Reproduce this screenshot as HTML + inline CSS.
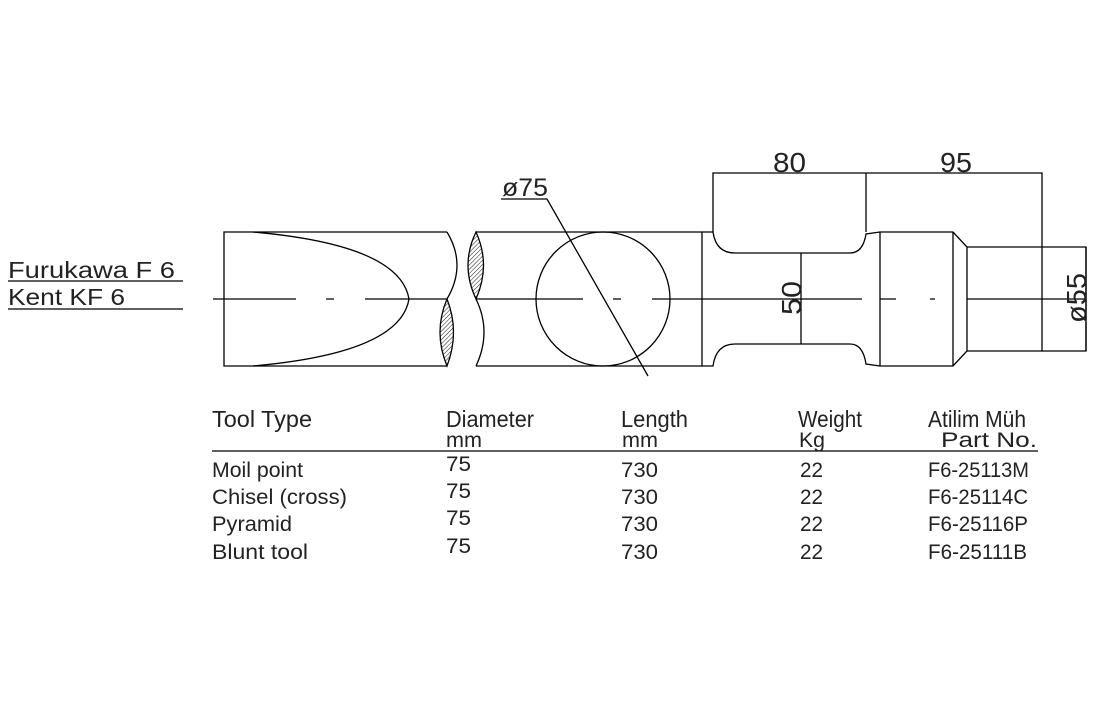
<!DOCTYPE html>
<html><head><meta charset="utf-8"><style>
html,body{margin:0;padding:0;background:#fff;}
svg{display:block;}
text{font-family:"Liberation Sans",sans-serif;fill:#222;font-weight:normal;}
</style></head><body>
<svg width="1103" height="714" viewBox="0 0 1103 714" xmlns="http://www.w3.org/2000/svg">
<defs>
<pattern id="h" width="3" height="3" patternUnits="userSpaceOnUse" patternTransform="rotate(45)">
<line x1="0" y1="0" x2="0" y2="3" stroke="#000" stroke-width="0.9"/>
</pattern>
</defs>
<g fill="none" stroke="#000" stroke-width="1.3">
<line x1="8" y1="281" x2="183" y2="281"/>
<line x1="8" y1="309" x2="183" y2="309"/>
<path d="M213 299H296 M326 299H334 M365 299H447 M476 299H583 M613 299H621 M652 299H862 M880 299H896 M930 299H935 M967 299H1085"/>
<path d="M447 232H224V366H447"/>
<path d="M447 232Q467 265 447 299"/>
<path d="M253 232Q400 245 409 299Q400 353 253 366"/>
<path d="M447 299Q433 332 447 366Q460 332 447 299Z" fill="url(#h)"/>
<path d="M476 232H702V366H476"/>
<path d="M476 232Q460 265 476 299Q491 265 476 232Z" fill="url(#h)"/>
<path d="M476 299Q492 332 476 366"/>
<circle cx="603" cy="299" r="67"/>
<path d="M501 199H547L648 376"/>
<path d="M702 232H713Q716 253 735 253H850Q863 253 866 234L880 232"/>
<path d="M702 366H713Q716 344 735 344H850Q863 344 866 364L880 366"/>
<path d="M880 232H953L967 247V351L953 366H880Z"/>
<line x1="953" y1="232" x2="953" y2="366"/>
<path d="M967 247H1086V351H967"/>
<path d="M713 232V173H866V232 M866 173H1042V351"/>
<line x1="801" y1="253" x2="801" y2="344"/>
<line x1="1086" y1="247" x2="1086" y2="351"/>
<line x1="212" y1="451" x2="1038" y2="451"/>
</g>
<g stroke="none">
<text x="8" y="278" font-size="23" textLength="167" lengthAdjust="spacingAndGlyphs">Furukawa F 6</text>
<text x="8" y="305" font-size="23" textLength="117" lengthAdjust="spacingAndGlyphs">Kent KF 6</text>
<text x="502" y="196" font-size="25" textLength="46" lengthAdjust="spacingAndGlyphs">ø75</text>
<text x="773" y="172" font-size="28" textLength="33" lengthAdjust="spacingAndGlyphs">80</text>
<text x="940" y="172" font-size="28" textLength="32" lengthAdjust="spacingAndGlyphs">95</text>
<text transform="translate(801,315) rotate(-90)" font-size="28" textLength="34" lengthAdjust="spacingAndGlyphs">50</text>
<text transform="translate(1086,323) rotate(-90)" font-size="28" textLength="50" lengthAdjust="spacingAndGlyphs">ø55</text>

<g font-size="23">
<text x="212" y="427" textLength="100" lengthAdjust="spacingAndGlyphs">Tool Type</text>
<text x="446" y="427" textLength="88" lengthAdjust="spacingAndGlyphs">Diameter</text>
<text x="621" y="427" textLength="67" lengthAdjust="spacingAndGlyphs">Length</text>
<text x="798" y="427" textLength="64" lengthAdjust="spacingAndGlyphs">Weight</text>
<text x="928" y="427" textLength="98" lengthAdjust="spacingAndGlyphs">Atilim Müh</text>
</g>
<g font-size="21">
<text x="446" y="447" textLength="36" lengthAdjust="spacingAndGlyphs">mm</text>
<text x="622" y="447" textLength="36" lengthAdjust="spacingAndGlyphs">mm</text>
<text x="799" y="447" textLength="26" lengthAdjust="spacingAndGlyphs">Kg</text>
<text x="941" y="447" textLength="96" lengthAdjust="spacingAndGlyphs">Part No.</text>

<text x="212" y="477" textLength="91" lengthAdjust="spacingAndGlyphs">Moil point</text>
<text x="212" y="504" textLength="135" lengthAdjust="spacingAndGlyphs">Chisel (cross)</text>
<text x="212" y="531" textLength="80" lengthAdjust="spacingAndGlyphs">Pyramid</text>
<text x="212" y="559" textLength="96" lengthAdjust="spacingAndGlyphs">Blunt tool</text>

<text x="446" y="471" textLength="25" lengthAdjust="spacingAndGlyphs">75</text>
<text x="446" y="498" textLength="25" lengthAdjust="spacingAndGlyphs">75</text>
<text x="446" y="525" textLength="25" lengthAdjust="spacingAndGlyphs">75</text>
<text x="446" y="553" textLength="25" lengthAdjust="spacingAndGlyphs">75</text>

<text x="621" y="477" textLength="37" lengthAdjust="spacingAndGlyphs">730</text>
<text x="621" y="504" textLength="37" lengthAdjust="spacingAndGlyphs">730</text>
<text x="621" y="531" textLength="37" lengthAdjust="spacingAndGlyphs">730</text>
<text x="621" y="559" textLength="37" lengthAdjust="spacingAndGlyphs">730</text>

<text x="800" y="477" textLength="23" lengthAdjust="spacingAndGlyphs">22</text>
<text x="800" y="504" textLength="23" lengthAdjust="spacingAndGlyphs">22</text>
<text x="800" y="531" textLength="23" lengthAdjust="spacingAndGlyphs">22</text>
<text x="800" y="559" textLength="23" lengthAdjust="spacingAndGlyphs">22</text>

<text x="928" y="477" textLength="101" lengthAdjust="spacingAndGlyphs">F6-25113M</text>
<text x="928" y="504" textLength="100" lengthAdjust="spacingAndGlyphs">F6-25114C</text>
<text x="928" y="531" textLength="100" lengthAdjust="spacingAndGlyphs">F6-25116P</text>
<text x="928" y="559" textLength="99" lengthAdjust="spacingAndGlyphs">F6-25111B</text>
</g>
</g>
</svg>
</body></html>
